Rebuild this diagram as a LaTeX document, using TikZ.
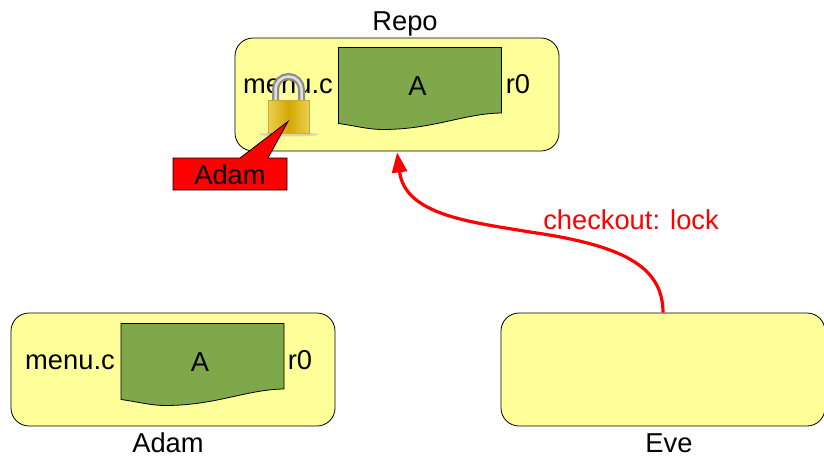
\documentclass[tikz,border=0pt]{standalone}
\usepackage{fontspec}
\setmainfont{Liberation Sans}
\usetikzlibrary{arrows.meta}
\definecolor{boxyellow}{HTML}{FFFF99}
\definecolor{sheetgreen}{HTML}{7FA84A}
\definecolor{lockedge}{HTML}{C9A93C}
\definecolor{lockside}{HTML}{EAD050}
\definecolor{lockmid}{HTML}{D4A800}
\tikzset{
  box/.style={draw=black, fill=boxyellow, rounded corners=18pt, minimum width=324pt, minimum height=113pt, inner sep=0, line width=.8pt},
  txt/.style={font=\fontsize{27.3}{30}\selectfont, inner sep=0, anchor=base},
  sheet/.pic={
    \draw[fill=sheetgreen, line width=.8pt] (0,0) -- (163,0) -- (163,65.5) .. controls (125,66) and (95,82) .. (44,82) .. controls (30,82) and (15,78) .. (0,76) -- cycle;
    \node[txt] (-label) at (79,48) {A};
  }
}

\begin{document}
\begin{tikzpicture}[x=1pt,y=-1pt]
\useasboundingbox (0,0) rectangle (824,455);

\node[box] (repo) at (397,94.5) {};
\node[box] (adam) at (173,369.5) {};
\node[box] (eve) at (663,369.5) {};

\node[txt] (repotitle) at (405,30) {Repo};
\node[txt] (adamtitle) at (168,452.5) {Adam};
\node[txt] (evetitle) at (669,452.5) {Eve};

\pic (repofile) at (338.5,47.5) {sheet};
\pic (adamfile) at (121,323.5) {sheet};
\node[txt] (reponame) at (288,93.5) {menu.c};
\node[txt] (reporev) at (518,93.5) {r0};
\node[txt] (adamname) at (70,369.5) {menu.c};
\node[txt] (adamrev) at (300,369.5) {r0};

% padlock
\fill[black!30, opacity=.5] (288.5,134.5) ellipse (30 and 2);
\draw[line width=7pt, black!45] (275.5,100) -- (275.5,89.5) arc[start angle=180, end angle=0, x radius=13, y radius=-13] -- (301.5,100);
\draw[line width=2.5pt, black!12] (275.5,100) -- (275.5,89.5) arc[start angle=180, end angle=0, x radius=13, y radius=-13] -- (301.5,100);
\draw[draw=lockedge, left color=lockside, right color=lockside, middle color=lockmid] (268.5,100) rectangle (309,133);

% owner
\draw[fill=red, line width=.8pt] (173,158) -- (240,158) -- (288,121.5) -- (268,158) -- (287,158) -- (287,190) -- (173,190) -- cycle;
\node[txt] (owner) at (230,184) {Adam};

\draw[red, line width=3.2pt, shorten >=1pt, -{Triangle[length=20pt,width=15pt]}] (eve.north) .. controls (663,265) and (620,245) .. (530,232) .. controls (470,222) and (405,215) .. (repo.south);
\node[txt, text=red] (lock) at (631,229.5) {checkout: lock};

\end{tikzpicture}
\end{document}
